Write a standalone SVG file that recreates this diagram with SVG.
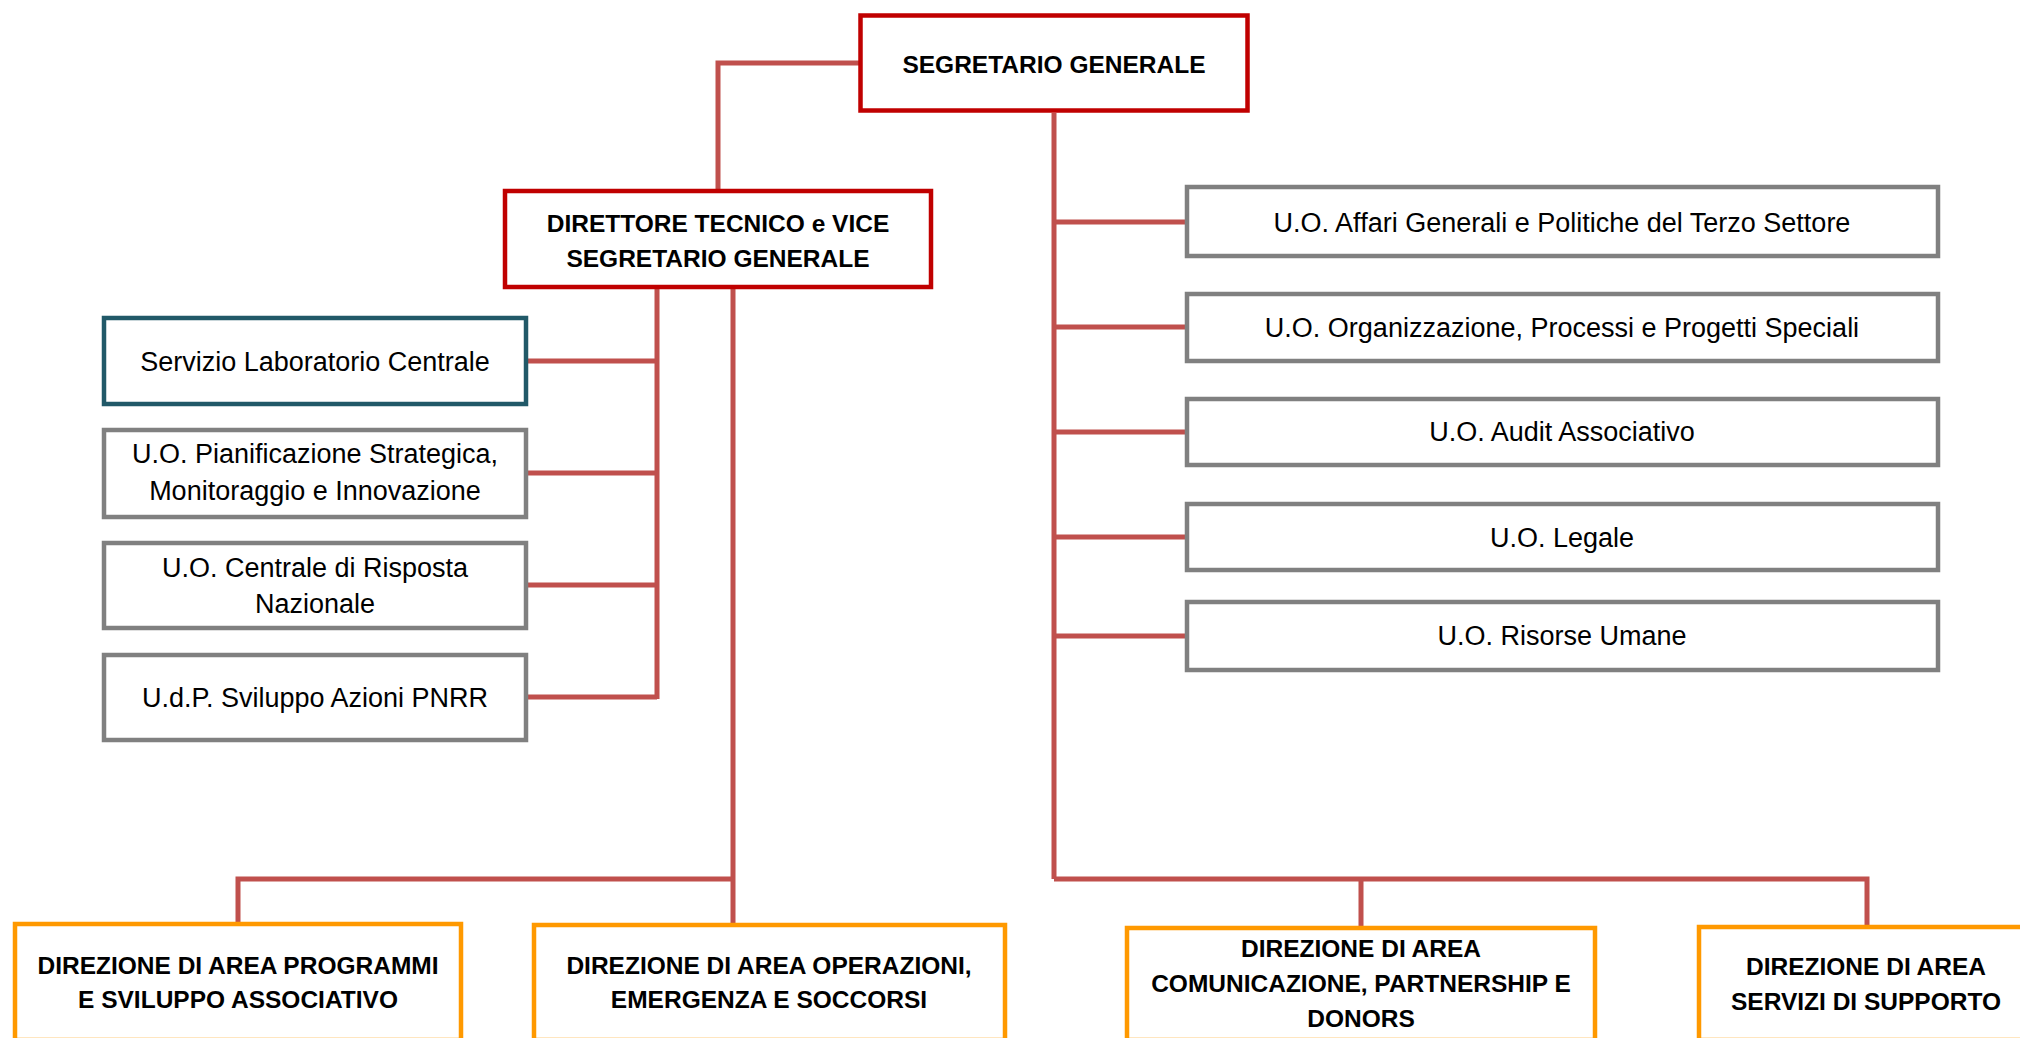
<svg xmlns="http://www.w3.org/2000/svg" width="2020" height="1038" viewBox="0 0 2020 1038">
<style>
.box{fill:#fff;stroke-width:4.5}
.red{stroke:#C00000}
.grey{stroke:#808080}
.teal{stroke:#215968}
.orange{stroke:#FF9900}
.con{fill:none;stroke:#C0504D;stroke-width:5}
.t{font-family:"Liberation Sans",Arial,sans-serif;font-size:27px;fill:#000;text-anchor:middle}
.b{font-family:"Liberation Sans",Arial,sans-serif;font-size:24.5px;font-weight:bold;fill:#000;text-anchor:middle}
</style>
<rect width="2020" height="1038" fill="#fff"/>
<g id="connectors">
<path class="con" d="M860,63 H718 V191"/>
<path class="con" d="M1054,113 V879"/>
<path class="con" d="M1054,222 H1185 M1054,327 H1185 M1054,432 H1185 M1054,537 H1185 M1054,636 H1185"/>
<path class="con" d="M657,289 V699 M527,361 H657 M527,473 H657 M527,585 H657 M527,697 H657"/>
<path class="con" d="M733,289 V925"/>
<path class="con" d="M238,924 V879 H733"/>
<path class="con" d="M1054,879 H1867 V927 M1361,879 V928"/>
</g>
<g id="segretario-generale">
<rect class="box red" x="860.5" y="15.5" width="387" height="95"/>
<text class="b" x="1054" y="73">SEGRETARIO GENERALE</text>
</g>
<g id="direttore-tecnico">
<rect class="box red" x="505" y="191" width="426" height="96"/>
<text class="b" x="718" y="232">DIRETTORE TECNICO e VICE</text>
<text class="b" x="718" y="267">SEGRETARIO GENERALE</text>
</g>
<g id="servizio-laboratorio">
<rect class="box teal" x="104" y="318" width="422" height="86"/>
<text class="t" x="315" y="371">Servizio Laboratorio Centrale</text>
</g>
<g id="uo-pianificazione">
<rect class="box grey" x="104" y="430" width="422" height="87"/>
<text class="t" x="315" y="463">U.O. Pianificazione Strategica,</text>
<text class="t" x="315" y="500">Monitoraggio e Innovazione</text>
</g>
<g id="uo-centrale-risposta">
<rect class="box grey" x="104" y="543" width="422" height="85"/>
<text class="t" x="315" y="577">U.O. Centrale di Risposta</text>
<text class="t" x="315" y="613">Nazionale</text>
</g>
<g id="udp-pnrr">
<rect class="box grey" x="104" y="655" width="422" height="85"/>
<text class="t" x="315" y="707">U.d.P. Sviluppo Azioni PNRR</text>
</g>
<g id="uo-affari-generali">
<rect class="box grey" x="1187" y="187" width="751" height="69"/>
<text class="t" x="1562" y="232">U.O. Affari Generali e Politiche del Terzo Settore</text>
</g>
<g id="uo-organizzazione">
<rect class="box grey" x="1187" y="294" width="751" height="67"/>
<text class="t" x="1562" y="337">U.O. Organizzazione, Processi e Progetti Speciali</text>
</g>
<g id="uo-audit">
<rect class="box grey" x="1187" y="399" width="751" height="66"/>
<text class="t" x="1562" y="441">U.O. Audit Associativo</text>
</g>
<g id="uo-legale">
<rect class="box grey" x="1187" y="504" width="751" height="66"/>
<text class="t" x="1562" y="547">U.O. Legale</text>
</g>
<g id="uo-risorse-umane">
<rect class="box grey" x="1187" y="602" width="751" height="68"/>
<text class="t" x="1562" y="645">U.O. Risorse Umane</text>
</g>
<g id="direzione-programmi">
<rect class="box orange" x="15" y="924" width="446" height="116"/>
<text class="b" x="238" y="974">DIREZIONE DI AREA PROGRAMMI</text>
<text class="b" x="238" y="1008">E SVILUPPO ASSOCIATIVO</text>
</g>
<g id="direzione-operazioni">
<rect class="box orange" x="534" y="925" width="471" height="115"/>
<text class="b" x="769" y="974">DIREZIONE DI AREA OPERAZIONI,</text>
<text class="b" x="769" y="1008">EMERGENZA E SOCCORSI</text>
</g>
<g id="direzione-comunicazione">
<rect class="box orange" x="1127" y="928" width="468" height="112"/>
<text class="b" x="1361" y="957">DIREZIONE DI AREA</text>
<text class="b" x="1361" y="992">COMUNICAZIONE, PARTNERSHIP E</text>
<text class="b" x="1361" y="1027">DONORS</text>
</g>
<g id="direzione-servizi">
<rect class="box orange" x="1699" y="927" width="340" height="113"/>
<text class="b" x="1866" y="975">DIREZIONE DI AREA</text>
<text class="b" x="1866" y="1010">SERVIZI DI SUPPORTO</text>
</g>
</svg>
